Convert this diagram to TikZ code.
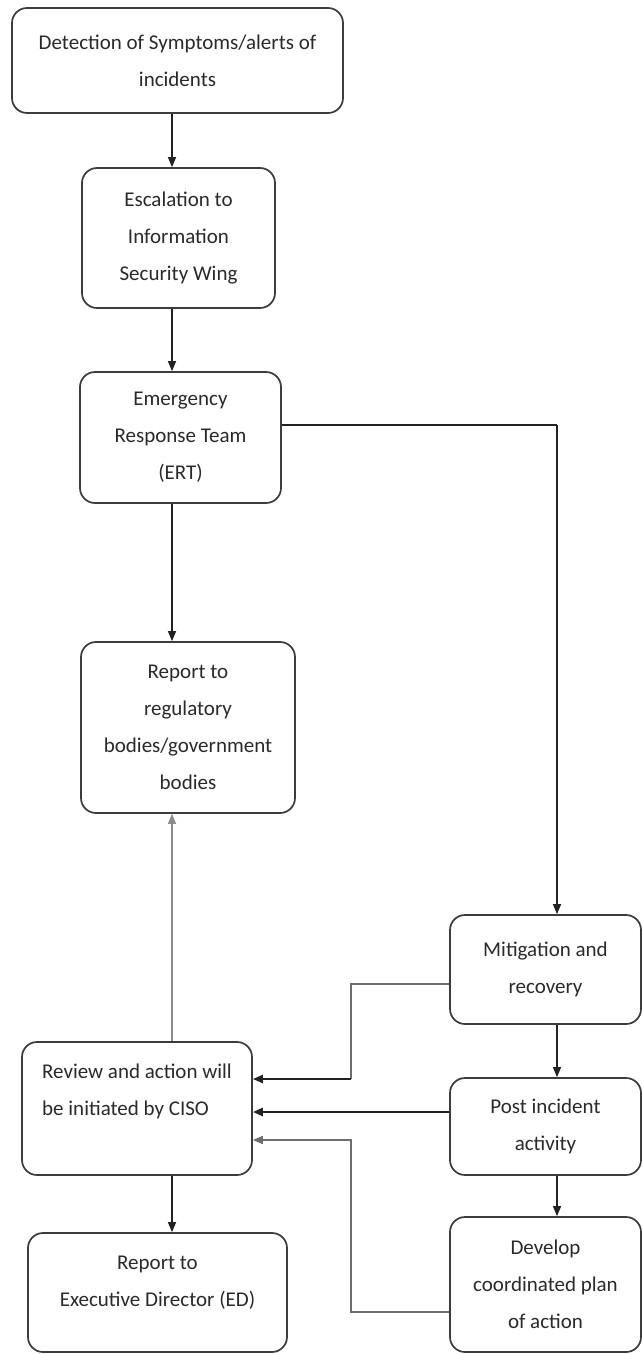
\documentclass[tikz,border=0pt]{standalone}
\usepackage{fontspec}
\setmainfont{Carlito}
\usetikzlibrary{arrows.meta,calc}
\definecolor{boxgray}{HTML}{3C3C3C}
\definecolor{txt}{HTML}{2A2A2A}
\definecolor{lndark}{HTML}{222222}
\definecolor{lnmid}{HTML}{6E6E6E}
\definecolor{lnlight}{HTML}{8C8C8C}
\begin{document}
\begin{tikzpicture}[x=1pt,y=-1pt,
  box/.style={draw=boxgray, line width=1.7pt, rounded corners=15pt, align=center,
    inner sep=0pt, font=\fontsize{21}{37}\selectfont, text=txt},
  arr/.style={line width=1.2pt, draw=lndark, -{Triangle[length=10pt,width=8pt]}},
  arrlight/.style={line width=1.2pt, draw=lnlight, -{Triangle[length=10pt,width=8pt]}},
  conn/.style={line width=1.6pt, draw=lnmid},
  connthick/.style={line width=2.6pt, draw=lndark},
  arrthick/.style={line width=2.6pt, draw=lndark, -{Triangle[length=10pt,width=8pt]}}]
\useasboundingbox (0,0) rectangle (642,1354);
\fill[white] (0,0) rectangle (642,1354);

\node[box, minimum width=331pt, minimum height=105pt] (d1) at (177.5,60.5)
  {Detection of Symptoms/alerts of\\incidents};
\node[box, minimum width=193pt, minimum height=140pt] (d2) at (178.5,238)
  {Escalation to\\Information\\Security Wing};
\node[box, minimum width=201pt, minimum height=131pt] (ert) at (180.5,437.5)
  {Emergency\\Response Team\\(ERT)};
\node[box, minimum width=214pt, minimum height=171pt] (rep) at (188,727.5)
  {Report to\\regulatory\\bodies/government\\bodies};
\node[box, minimum width=191pt, minimum height=109pt] (mit) at (545.5,969.5)
  {Mitigation and\\recovery};
\node[box, align=left, text depth=38pt, minimum width=230pt, minimum height=133pt] (rev) at (137,1108.5)
  {Review and action will\\be initiated by CISO};
\node[box, minimum width=191pt, minimum height=97pt] (post) at (545.5,1126.5)
  {Post incident\\activity};
\node[box, minimum width=191pt, minimum height=135pt] (dev) at (545.5,1284.5)
  {Develop\\coordinated plan\\of action};
\node[box, text depth=23pt, minimum width=259pt, minimum height=119pt] (ed) at (157.5,1292.5)
  {Report to\\Executive Director (ED)};

\coordinate (ax) at (172,0);
\coordinate (bx) at (557,0);
\coordinate (vx) at (351,0);

\draw[arr] (d1.south -| ax) -- (d2.north -| ax);
\draw[arr] (d2.south -| ax) -- (ert.north -| ax);
\draw[arr] (ert.south -| ax) -- (rep.north -| ax);
\draw[arrlight] (rev.north -| ax) -- (rep.south -| ax);
\draw[arr] (rev.south -| ax) -- (ed.north -| ax);

\path ([yshift=12.5pt]ert.east) coordinate (e1);
\coordinate (c1) at (e1 -| bx);
\draw[connthick] (e1) -- (c1);
\draw[arr] (c1) -- (mit.north -| bx);
\draw[arr] (mit.south -| bx) -- (post.north -| bx);
\draw[arr] (post.south -| bx) -- (dev.north -| bx);

\path ([yshift=-14.5pt]mit.west) coordinate (m1);
\path ([yshift=29.5pt]rev.east) coordinate (r1);
\draw[conn] (m1) -- (m1 -| vx) -- (r1 -| vx);
\draw[arrthick, line width=2pt] (r1 -| vx) -- (r1);

\path ([yshift=14.5pt]post.west) coordinate (p1);
\draw[arrthick] (p1) -- (p1 -| rev.east);

\path ([yshift=-27.5pt]dev.west) coordinate (v1);
\path ([yshift=-31.5pt]rev.east) coordinate (r3);
\draw[conn, -{Triangle[length=10pt,width=8pt]}] (v1) -- (v1 -| vx) -- (r3 -| vx) -- (r3);
\end{tikzpicture}
\end{document}
